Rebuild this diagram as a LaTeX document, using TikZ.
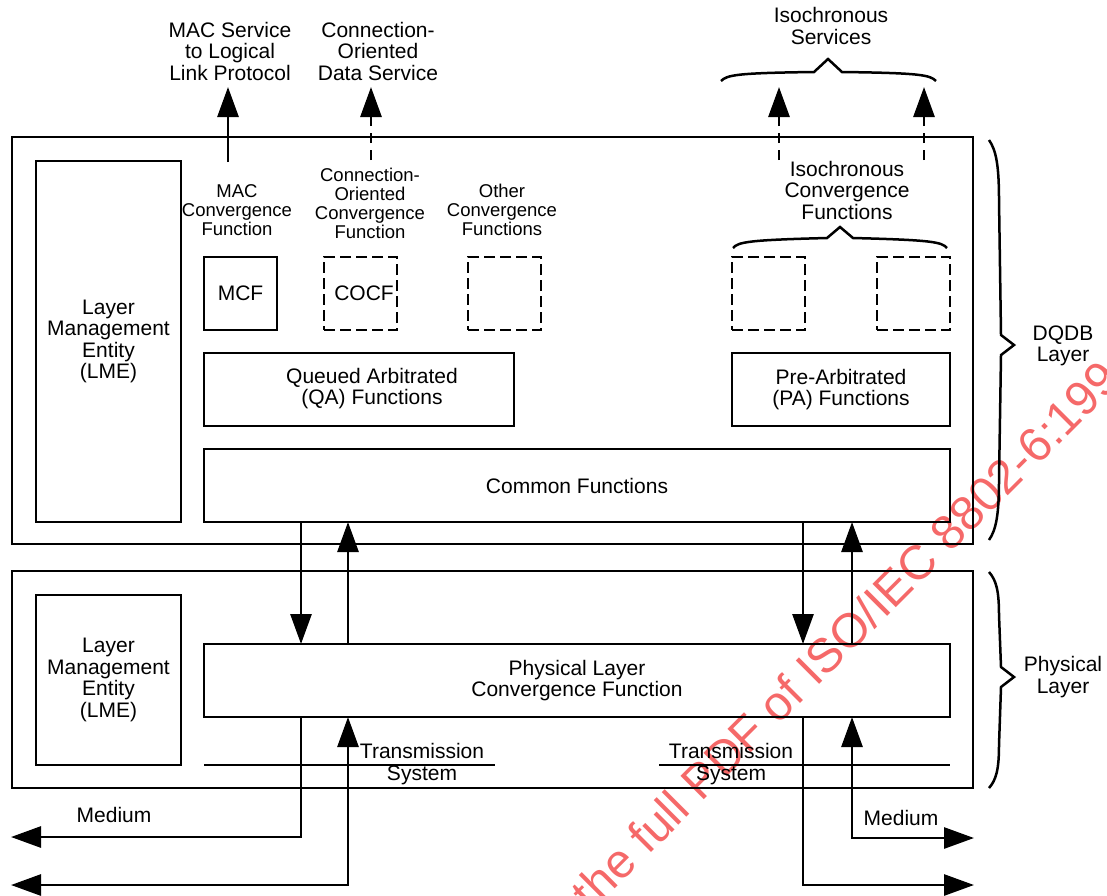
\documentclass[tikz,border=0pt]{standalone}
\usepackage{fontspec}
\setmainfont{Liberation Sans}
\usetikzlibrary{arrows.meta,calc}
\definecolor{wm}{RGB}{245,105,105}
\begin{document}
\begin{tikzpicture}[x=1pt,y=-1pt, line width=2.8pt,
  box/.style={draw, line width=2.8pt, outer sep=0pt, inner sep=0pt, rectangle, font=\fontsize{21}{21.5}\selectfont, align=center},
  dbox/.style={box, dash pattern=on 11pt off 5pt},
  lblmain/.style={font=\fontsize{21}{21.5}\selectfont, align=center, inner sep=0pt},
  lblsmall/.style={font=\fontsize{18.5}{19}\selectfont, align=center, inner sep=0pt},
  arr/.style={-{Triangle[length=30pt,width=21pt]}},
  arrb/.style={{Triangle[length=30pt,width=21pt]}-{Triangle[length=30pt,width=21pt]}},
  dasharr/.style={arr, dash pattern=on 10pt off 7pt},
  bracepath/.style={line width=2.5pt, line join=miter},
]
\useasboundingbox (0,0) rectangle (1107,895);
\clip (0,0) rectangle (1107,895);

% watermark
\node[rotate=45, anchor=base west, text=wm, font=\fontsize{48}{48}\selectfont, inner sep=0pt] (wmark) at (591,913) {the full PDF of ISO/IEC 8802-6:1994};

% DQDB layer
\node[box, minimum width=961, minimum height=407] (dqdb) at (492.5,340.5) {};
\node[box, minimum width=145, minimum height=361] (lme1) at (108.5,341.5) {Layer\\Management\\Entity\\(LME)};
\node[box, minimum width=73, minimum height=73] (mcf) at (240.5,293.5) {MCF};
\node[dbox, minimum width=73, minimum height=73] (cocf) at (360.5,293.5) {};
\node[lblmain] (cocftxt) at (364,293.5) {COCF};
\node[dbox, minimum width=73, minimum height=73] (ocf) at (504.5,293.5) {};
\node[dbox, minimum width=73, minimum height=73] (icf1) at (768.5,293.5) {};
\node[dbox, minimum width=73, minimum height=73] (icf2) at (913.5,293.5) {};
\node[box, minimum width=310, minimum height=73] (qa) at (359,389.5) {};
\node[lblmain] (qatxt) at (372,388.5) {Queued Arbitrated\\(QA) Functions};
\node[box, minimum width=218, minimum height=73] (pa) at (841,389.5) {Pre-Arbitrated\\(PA) Functions};
\node[box, minimum width=746, minimum height=73] (common) at (577,485.5) {Common Functions};

% Physical layer
\node[box, minimum width=961, minimum height=217] (phys) at (492.5,679.5) {};
\node[box, minimum width=145, minimum height=170] (lme2) at (108.5,680) {Layer\\Management\\Entity\\(LME)};
\node[box, minimum width=746, minimum height=73] (plcf) at (577,680.5) {Physical Layer\\Convergence Function};

% labels
\node[lblmain] (macserv) at (230,51) {MAC Service\\to Logical\\Link Protocol};
\node[lblmain] (coserv) at (378,51) {Connection-\\Oriented\\Data Service};
\node[lblmain] (isoserv) at (831,26) {Isochronous\\Services};
\node[lblsmall] (mcflbl) at (237,210) {MAC\\Convergence\\Function};
\node[lblsmall] (coclbl) at (370,203) {Connection-\\Oriented\\Convergence\\Function};
\node[lblsmall] (ocflbl) at (502,210) {Other\\Convergence\\Functions};
\node[lblmain] (icflbl) at (847,190) {Isochronous\\Convergence\\Functions};
\node[lblmain] (dqdblbl) at (1063,346) {DQDB\\Layer};
\node[lblmain] (physlbl) at (1063,677) {Physical\\Layer};
\node[lblmain] (tsl) at (422,764) {Transmission\\System};
\node[lblmain] (tsr) at (731,764) {Transmission\\System};
\node[lblmain] (medl) at (114,815) {Medium};
\node[lblmain] (medr) at (901,818) {Medium};

% transmission system lines
\coordinate (tsla) at (204,765); \coordinate (tslb) at (495,765);
\coordinate (tsra) at (659,765); \coordinate (tsrb) at (950,765);
\draw (tsla) -- (tslb);
\draw (tsra) -- (tsrb);

% service arrows
\coordinate (macA) at (228,162); \coordinate (macB) at (228,87);
\coordinate (coA) at (371,160); \coordinate (coB) at (371,87);
\coordinate (isA1) at (779,160); \coordinate (isB1) at (779,87);
\coordinate (isA2) at (924,160); \coordinate (isB2) at (924,87);
\draw[arr] (macA) -- (macB);
\draw[dasharr] (coA) -- (coB);
\draw[dasharr] (isA1) -- (isB1);
\draw[dasharr] (isA2) -- (isB2);

% inter-layer arrows
\coordinate (d1) at (301,0); \coordinate (u1) at (348,0);
\coordinate (d2) at (803,0); \coordinate (u2) at (852,0);
\draw[arr] (common.south -| d1) -- (plcf.north -| d1);
\draw[arr] (plcf.north -| u1) -- (common.south -| u1);
\draw[arr] (common.south -| d2) -- (plcf.north -| d2);
\draw[arr] (plcf.north -| u2) -- (common.south -| u2);

% medium arrows
\coordinate (mL1) at (11,837); \coordinate (mL2) at (11,885);
\coordinate (mR1) at (974,838); \coordinate (mR2) at (974,885);
\draw[arr] (plcf.south -| d1) |- (mL1);
\draw[arrb] (mL2) -| (plcf.south -| u1);
\draw[arr] (plcf.south -| d2) |- (mR2);
\draw[arrb] (mR1) -| (plcf.south -| u2);

% braces
\draw[bracepath] (721,81) .. controls (727,75) and (736,73) .. (814,72) -- (828,59) -- (842,72) .. controls (921,73) and (930,75) .. (936,81);
\draw[bracepath] (733,248) .. controls (738,242) and (748,240) .. (827,238) -- (840,227) -- (853,238) .. controls (932,240) and (942,242) .. (947,248);
\draw[bracepath] (989,140) .. controls (996,150) and (999,165) .. (999,200) -- (1001,335) -- (1014,345) -- (1001,355) -- (999,480) .. controls (999,515) and (996,530) .. (989,540);
\draw[bracepath] (989,572) .. controls (996,580) and (999,590) .. (999,615) -- (1001,667) -- (1014,677) -- (1001,687) -- (999,745) .. controls (999,770) and (996,780) .. (989,788);
\end{tikzpicture}
\end{document}
